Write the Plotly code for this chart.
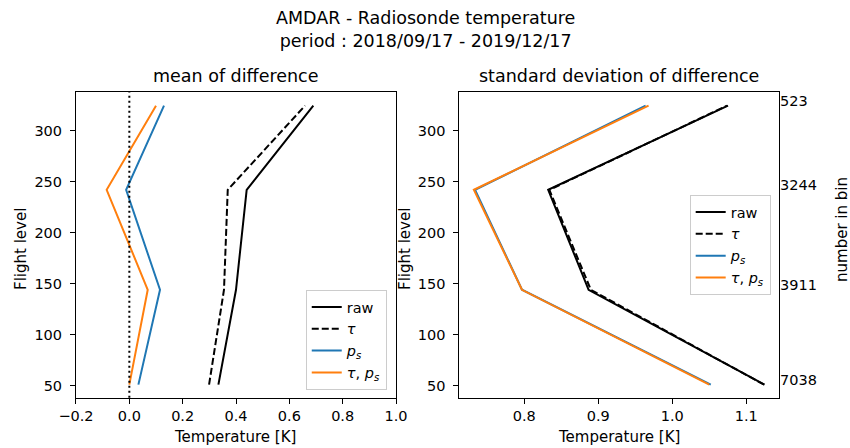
import plotly.graph_objects as go

# mean flight level of each bin and number of pairs in it
flight_level = [51, 144, 242, 324.5]
n_in_bin = ["7038", "3911", "3244", "523"]

# mean of AMDAR - radiosonde difference [K]
mean_raw = [0.334, 0.400, 0.440, 0.690]
mean_tau = [0.299, 0.355, 0.369, 0.659]
mean_ps = [0.034, 0.115, -0.012, 0.130]
mean_tau_ps = [0.000, 0.069, -0.085, 0.100]

# standard deviation of difference [K]
std_raw = [1.1246, 0.887, 0.8324, 1.0753]
std_tau = [1.1240, 0.890, 0.834, 1.0740]
std_ps = [1.052, 0.797, 0.7337, 0.964]
std_tau_ps = [1.050, 0.797, 0.732, 0.968]

names = ["raw", "<i>τ</i>", "<i>p</i><sub><i>s</i></sub>", "<i>τ</i>, <i>p</i><sub><i>s</i></sub>"]
styles = [("black", "solid"), ("black", "7px,3px"), ("#1f77b4", "solid"), ("#ff7f0e", "solid")]

fig = go.Figure()

for vals, name, (col, dash) in zip([mean_raw, mean_tau, mean_ps, mean_tau_ps], names, styles):
    fig.add_trace(go.Scatter(x=vals, y=flight_level, mode="lines", name=name,
                             line=dict(color=col, dash=dash, width=2),
                             xaxis="x", yaxis="y", legend="legend"))

for vals, name, (col, dash) in zip([std_raw, std_tau, std_ps, std_tau_ps], names, styles):
    fig.add_trace(go.Scatter(x=vals, y=flight_level, mode="lines", name=name,
                             line=dict(color=col, dash=dash, width=2),
                             xaxis="x2", yaxis="y2", legend="legend2"))

# invisible trace so the right-hand "number in bin" axis gets drawn
fig.add_trace(go.Scatter(x=std_raw, y=flight_level, mode="lines", opacity=0,
                         showlegend=False, hoverinfo="skip", xaxis="x2", yaxis="y3"))

# zero line on the mean panel
fig.add_vline(x=0, line=dict(color="black", dash="2px,3px", width=2), xref="x", yref="y")

tick_font = dict(family="DejaVu Sans", size=14.5, color="black")
label_font = dict(family="DejaVu Sans", size=15, color="black")
title_font = dict(family="DejaVu Sans", size=17.5, color="black")

axis_style = dict(showline=True, mirror=True, linecolor="black", linewidth=1,
                  ticks="outside", ticklen=5, tickcolor="black", showgrid=False,
                  zeroline=False, tickfont=tick_font, automargin=False)

ylo, yhi = 38.2, 337.6

fig.update_layout(
    width=850, height=448,
    margin=dict(l=0, r=0, t=0, b=0),
    plot_bgcolor="white", paper_bgcolor="white",
    font=tick_font,
    xaxis=dict(domain=[0.0894, 0.4659], range=[-0.2, 1.0], dtick=0.2, tickformat=".1f",
               anchor="y", **axis_style),
    yaxis=dict(domain=[0.1123, 0.794], range=[ylo, yhi], dtick=50, anchor="x",
               ticklabelstandoff=5, **axis_style),
    xaxis2=dict(domain=[0.5404, 0.9165], range=[0.7124, 1.1442], dtick=0.1, tickformat=".1f",
                anchor="y2", **axis_style),
    yaxis2=dict(domain=[0.1123, 0.794], range=[ylo, yhi], dtick=50, anchor="x2",
                ticklabelstandoff=5, **axis_style),
    yaxis3=dict(overlaying="y2", side="right", anchor="x2", range=[ylo, yhi],
                tickvals=flight_level, ticktext=n_in_bin, showgrid=False, zeroline=False,
                ticks="", tickfont=tick_font, automargin=False, ticklabelshift=-5),
    legend=dict(x=0.455, y=0.1295, xanchor="right", yanchor="bottom", font=tick_font,
                bgcolor="rgba(255,255,255,0.8)", bordercolor="#cccccc", borderwidth=1),
    legend2=dict(x=0.9067, y=0.5647, xanchor="right", yanchor="top", font=tick_font,
                 bgcolor="rgba(255,255,255,0.8)", bordercolor="#cccccc", borderwidth=1),
    annotations=[
        dict(text="AMDAR - Radiosonde temperature<br>period : 2018/09/17 - 2019/12/17",
             x=0.5, y=1 - 6 / 448, xref="paper", yref="paper", xanchor="center", yanchor="top",
             showarrow=False, font=title_font),
        dict(text="mean of difference", x=0.2776, y=1 - 76 / 448, xref="paper", yref="paper",
             xanchor="center", yanchor="middle", showarrow=False, font=title_font),
        dict(text="standard deviation of difference", x=0.7284, y=1 - 76 / 448, xref="paper",
             yref="paper", xanchor="center", yanchor="middle", showarrow=False, font=title_font),
        dict(text="Temperature [K]", x=235 / 850, y=1 - 437 / 448, xref="paper", yref="paper",
             xanchor="center", yanchor="middle", showarrow=False, font=label_font),
        dict(text="Temperature [K]", x=619 / 850, y=1 - 437 / 448, xref="paper", yref="paper",
             xanchor="center", yanchor="middle", showarrow=False, font=label_font),
        dict(text="Flight level", x=21 / 850, y=1 - 249 / 448, xref="paper", yref="paper",
             xanchor="center", yanchor="middle", textangle=-90, showarrow=False, font=label_font),
        dict(text="Flight level", x=405 / 850, y=1 - 249 / 448, xref="paper", yref="paper",
             xanchor="center", yanchor="middle", textangle=-90, showarrow=False, font=label_font),
        dict(text="number in bin", x=842 / 850, y=1 - 230 / 448, xref="paper", yref="paper",
             xanchor="center", yanchor="middle", textangle=-90, showarrow=False, font=label_font),
    ],
)

# drop the browser's default page margin so the figure fills the window exactly
fig.write_html("out.html", config={"displayModeBar": False},
               post_script="document.body.style.margin='0px';")
